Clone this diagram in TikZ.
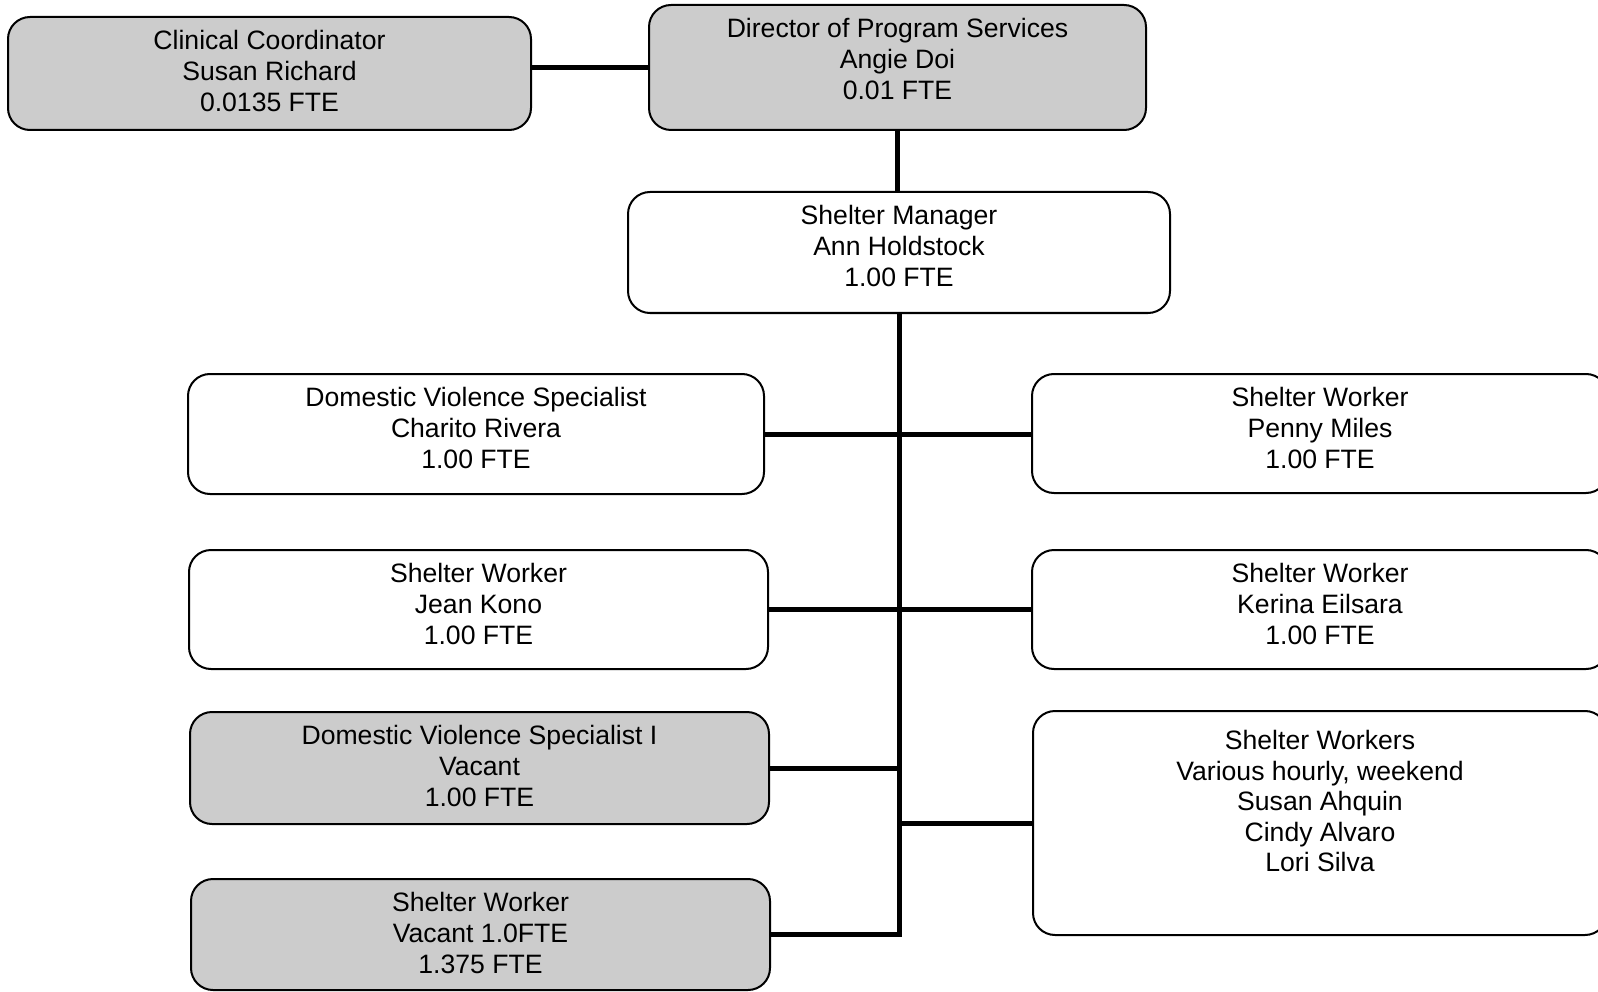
\documentclass[tikz,border=0pt]{standalone}
\usepackage{fontspec}
\setmainfont{Liberation Sans}
\begin{document}
\begin{tikzpicture}[x=1pt,y=-1pt,
  box/.style={draw=black, line width=2pt, rounded corners=22pt, inner sep=0pt, fill=white},
  shaded/.style={box, fill=black!20},
  txt/.style={font=\fontsize{26.6}{30.6}\selectfont, align=center, inner sep=0pt, anchor=north},
  conn/.style={line width=5pt}]
\useasboundingbox (0,0) rectangle (1598,992);
% boxes
\node[shaded, minimum width=523pt, minimum height=113pt] (clin) at (269.5,73.5) {};
\node[shaded, minimum width=497pt, minimum height=125pt] (dir) at (897.5,67.5) {};
\node[box, minimum width=542pt, minimum height=121pt] (mgr) at (899,252.5) {};
\node[box, minimum width=576pt, minimum height=120pt] (dvs) at (476,434) {};
\node[box, minimum width=576pt, minimum height=119pt] (penny) at (1320,433.5) {};
\node[box, minimum width=579pt, minimum height=119pt] (jean) at (478.5,609.5) {};
\node[box, minimum width=576pt, minimum height=119pt] (kerina) at (1320,609.5) {};
\node[shaded, minimum width=579pt, minimum height=112pt] (dvsone) at (479.5,768) {};
\node[shaded, minimum width=579pt, minimum height=111pt] (swv) at (480.5,934.5) {};
\node[box, minimum width=574pt, minimum height=224pt] (sws) at (1320,823) {};
% texts
\node[txt] (clinT) at ([yshift=-14.5pt]clin.north) {Clinical Coordinator\\Susan Richard\\0.0135 FTE};
\node[txt] (dirT) at ([yshift=-14.5pt]dir.north) {Director of Program Services\\Angie Doi\\0.01 FTE};
\node[txt] (mgrT) at ([yshift=-14.5pt]mgr.north) {Shelter Manager\\Ann Holdstock\\1.00 FTE};
\node[txt] (dvsT) at ([yshift=-14.5pt]dvs.north) {Domestic Violence Specialist\\Charito Rivera\\1.00 FTE};
\node[txt] (pennyT) at ([yshift=-14.5pt]penny.north) {Shelter Worker\\Penny Miles\\1.00 FTE};
\node[txt] (jeanT) at ([yshift=-14.5pt]jean.north) {Shelter Worker\\Jean Kono\\1.00 FTE};
\node[txt] (kerinaT) at ([yshift=-14.5pt]kerina.north) {Shelter Worker\\Kerina Eilsara\\1.00 FTE};
\node[txt] (dvsoneT) at ([yshift=-14.5pt]dvsone.north) {Domestic Violence Specialist I\\Vacant\\1.00 FTE};
\node[txt] (swvT) at ([yshift=-14.5pt]swv.north) {Shelter Worker\\Vacant 1.0FTE\\1.375 FTE};
\node[txt] (swsT) at ([yshift=-20pt]sws.north) {Shelter Workers\\Various hourly, weekend\\Susan Ahquin\\Cindy Alvaro\\Lori Silva};
% connectors
\coordinate (trunkbot) at (mgr.south |- swv.east);
\draw[conn] (dir.west) -- (dir.west -| clin.east);
\draw[conn] (dir.south) -- (dir.south |- mgr.north);
\draw[conn] (mgr.south) -- ([yshift=-2.5pt]trunkbot);
\draw[conn] (dvs.east) -- (dvs.east -| penny.west);
\draw[conn] (jean.east) -- (jean.east -| kerina.west);
\draw[conn] (dvsone.east) -- (dvsone.east -| mgr.south);
\draw[conn] (sws.west) -- (sws.west -| mgr.south);
\draw[conn] (swv.east) -- ([xshift=2.5pt]trunkbot);
\end{tikzpicture}
\end{document}
